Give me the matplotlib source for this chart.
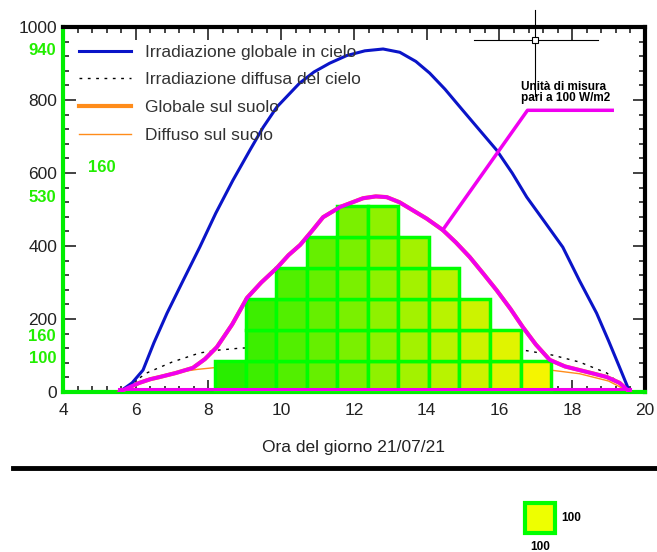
import numpy as np
import matplotlib.pyplot as plt
from matplotlib.lines import Line2D
from matplotlib.patches import Rectangle
from matplotlib.ticker import MultipleLocator

plt.rcParams['font.family'] = ['Liberation Sans', 'DejaVu Sans']

# irradiazione globale in cielo (W/m2)
ore_cielo = [5.55, 5.9, 6.2, 6.5, 6.86, 7.3, 7.76, 8.2, 8.67, 9.14, 9.5, 9.88, 10.5, 10.9,
             11.33, 11.8, 12.3, 12.8, 13.26, 13.7, 14.08, 14.5, 14.99, 15.45, 15.92,
             16.35, 16.75, 17.25, 17.74, 18.2, 18.67, 19.0, 19.3, 19.58]
glob_cielo = [0, 25, 60, 135, 216, 305, 397, 490, 580, 663, 725, 781, 846, 877,
              901, 922, 935, 940, 931, 906, 874, 830, 772, 718, 663,
              600, 534, 465, 397, 305, 216, 140, 68, 0]

# irradiazione diffusa del cielo
ore_diff = [5.55, 6.3, 7.0, 7.76, 8.3, 8.86, 10.0, 12.0, 14.0, 16.0, 16.64, 17.46, 18.2, 18.95, 19.58]
diff_cielo = [0, 52, 82, 107, 115, 120, 125, 128, 125, 120, 115, 101, 82, 52, 0]

# globale sul suolo
ore_suolo = [5.55, 5.8, 6.1, 6.4, 6.66, 7.1, 7.57, 7.9, 8.23, 8.65, 9.06, 9.45, 9.88,
             10.2, 10.52, 10.85, 11.15, 11.62, 12.25, 12.6, 12.9, 13.25, 13.6, 14.0,
             14.44, 14.8, 15.18, 15.55, 15.92, 16.3, 16.64, 17.0, 17.38, 17.8, 18.2,
             18.6, 18.95, 19.3, 19.58]
glob_suolo = [0, 12, 25, 35, 41, 52, 66, 90, 123, 185, 258, 300, 340,
              375, 403, 442, 479, 507, 531, 536, 534, 520, 499, 475,
              444, 410, 370, 325, 279, 228, 178, 130, 88, 70, 60,
              50, 41, 25, 0]

# diffuso sul suolo
ore_diff_suolo = [5.55, 6.3, 7.0, 7.7, 8.3, 12.0, 16.6, 17.4, 18.2, 19.0, 19.58]
diff_suolo = [0, 35, 52, 62, 68, 75, 68, 60, 50, 30, 0]

# quadretti: numero di unita' per ogni colonna
col_start = 8.18
col_w = 0.84
cell_h = 85
celle = [1, 3, 4, 5, 6, 6, 5, 4, 3, 2, 1]

fig = plt.figure(figsize=(6.57, 5.52), dpi=100)
ax = fig.add_axes([0.0959, 0.2899, 0.8858, 0.661])

ax.plot(ore_cielo, glob_cielo, color='#0a14c8', lw=2.2, label='Irradiazione globale in cielo', zorder=4)
ax.plot(ore_diff, diff_cielo, color='black', lw=1, ls=(0, (2, 4)), label='Irradiazione diffusa del cielo', zorder=2)
ax.plot(ore_suolo, glob_suolo, color='#ff8c1a', lw=3, label='Globale sul suolo', zorder=3)
ax.plot(ore_diff_suolo, diff_suolo, color='#ff8c1a', lw=1, label='Diffuso sul suolo', zorder=3)

# colori dei quadretti dal verde al giallo
n = len(celle)
colori = [(0.16 + 0.8 * i / (n - 1), 0.93 + 0.03 * i / (n - 1), 0.0) for i in range(n)]
x_col = col_start + col_w * np.arange(n)
for r in range(max(celle)):
    idx = [i for i in range(n) if celle[i] > r]
    ax.bar(x_col[idx], cell_h, width=col_w, bottom=r * cell_h, align='edge',
           color=[colori[i] for i in idx], edgecolor='#00ff00', linewidth=2.5, zorder=5)

# curva magenta sopra il suolo
ax.plot(ore_suolo, glob_suolo, color='#f000f0', lw=2.8, zorder=6, solid_capstyle='round')
ax.plot([5.55, 19.58], [7, 7], color='#f000f0', lw=2.2, zorder=6)

# richiamo per l'unita' di misura
ax.plot([14.44, 16.77, 19.1], [444, 772, 772], color='#f000f0', lw=2.5, zorder=6)
ax.text(16.6, 790, 'Unità di misura\npari a 100 W/m2', fontsize=8.5, fontweight='heavy',
        linespacing=0.85, ha='left', va='bottom', zorder=7)

# mirino
ax.plot([16.97, 16.97], [1048, 812], color='black', lw=0.8, clip_on=False, zorder=7)
ax.plot([15.3, 18.7], [964, 964], color='black', lw=0.8, zorder=7)
ax.plot([16.97], [964], marker='s', ms=5, mfc='white', mec='black', mew=0.8, zorder=8)

ax.set_xlim(4, 20)
ax.set_ylim(0, 1000)
ax.xaxis.set_major_locator(MultipleLocator(2))
ax.xaxis.set_minor_locator(MultipleLocator(0.4))
ax.yaxis.set_major_locator(MultipleLocator(200))
ax.yaxis.set_minor_locator(MultipleLocator(40))
ax.tick_params(which='both', direction='in', top=True, right=True, color='black', width=1.2)
ax.tick_params(which='major', length=9, labelsize=12.5, pad=8)
ax.tick_params(which='minor', length=4)
ax.tick_params(axis='y', pad=4)
ax.tick_params(colors='#222222', which='both')

for s in ['left', 'bottom']:
    ax.spines[s].set_color('#00ee00')
    ax.spines[s].set_linewidth(3)
for s in ['top', 'right']:
    ax.spines[s].set_color('black')
    ax.spines[s].set_linewidth(3)

ax.set_xlabel('Ora del giorno 21/07/21', fontsize=12.5, labelpad=16, color='#222222')

# valori in verde
verde = '#22ee00'
tr = ax.get_yaxis_transform()
for v, lab in [(937, '940'), (534, '530'), (152, '160'), (92, '100')]:
    ax.text(-0.012, v, lab, transform=tr, ha='right', va='center', color=verde,
            fontsize=12, fontweight='heavy')
ax.text(4.7, 616, '160', color=verde, fontsize=12, fontweight='heavy', ha='left', va='center')

ax.legend(loc='upper left', frameon=False, fontsize=12.5, handlelength=3.0,
          bbox_to_anchor=(0.0, 0.995), labelspacing=0.72, labelcolor='#333333')

# linea separatrice e legenda dei quadretti
fig.add_artist(Line2D([0.02, 1.0], [0.152, 0.152], color='black', lw=3.5))
fig.add_artist(Rectangle((525 / 657, 1 - 533 / 552), 30 / 657, 30 / 552,
                         facecolor='#eeff00', edgecolor='#00ff00', lw=3))
fig.text(561 / 657, 1 - 518 / 552, '100', fontsize=8.5, fontweight='heavy', va='center')
fig.text(540 / 657, 1 - 547 / 552, '100', fontsize=8.5, fontweight='heavy', va='center', ha='center')

fig.savefig('out.png', dpi=100)
